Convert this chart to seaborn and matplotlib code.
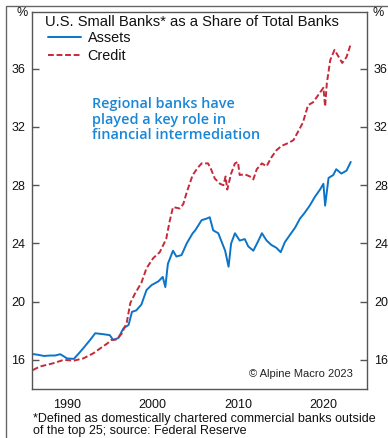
import matplotlib
matplotlib.use("Agg")
import matplotlib.pyplot as plt
from matplotlib.lines import Line2D
from matplotlib.patches import Rectangle
import pandas as pd
import seaborn as sns

# Small banks' share of total commercial bank assets (%)
asset_years = [1986.0, 1986.6, 1987.3, 1988.0, 1988.6, 1989.2, 1989.6, 1990.0, 1990.8,
               1991.4, 1991.9, 1992.7, 1993.3, 1994.3, 1995.0, 1995.4, 1996.0, 1996.6,
               1997.2, 1997.6, 1998.1, 1998.7, 1999.3, 1999.9, 2000.7, 2001.2, 2001.5,
               2001.8, 2002.4, 2002.8, 2003.4, 2004.0, 2004.7, 2005.0, 2005.75, 2006.3,
               2006.7, 2007.1, 2007.7, 2008.1, 2008.5, 2008.9, 2009.2, 2009.65, 2010.2,
               2010.8, 2011.2, 2011.8, 2012.4, 2012.8, 2013.35, 2013.9, 2014.5, 2015.0,
               2015.5, 2016.1, 2016.7, 2017.25, 2017.8, 2018.4, 2019.0, 2019.6, 2020.0,
               2020.2, 2020.6, 2021.15, 2021.5, 2022.1, 2022.7, 2023.2]
assets = [16.4, 16.35, 16.27, 16.3, 16.3, 16.39, 16.25, 16.1, 16.07,
          16.46, 16.8, 17.37, 17.83, 17.76, 17.7, 17.37, 17.5, 18.17,
          18.4, 19.3, 19.4, 19.8, 20.8, 21.14, 21.4, 21.7, 21.0,
          22.6, 23.5, 23.1, 23.2, 24.0, 24.7, 24.9, 25.6, 25.7,
          25.8, 24.9, 24.7, 24.1, 23.5, 22.4, 24.0, 24.7, 24.2,
          24.3, 23.8, 23.5, 24.2, 24.7, 24.2, 23.9, 23.7, 23.4,
          24.1, 24.6, 25.1, 25.7, 26.1, 26.6, 27.2, 27.7, 28.1,
          26.6, 28.5, 28.7, 29.1, 28.8, 29.0, 29.6]

# Small banks' share of total commercial bank credit (%)
credit_years = [1986.0, 1986.8, 1988.4, 1989.6, 1990.8, 1991.9, 1993.1, 1993.9, 1994.65,
                1995.2, 1995.8, 1996.4, 1997.0, 1997.4, 1997.9, 1998.7, 1999.3, 2000.1,
                2000.85, 2001.6, 2002.0, 2002.4, 2003.2, 2003.6, 2004.0, 2004.7, 2005.3,
                2005.75, 2006.5, 2006.85, 2007.3, 2007.9, 2008.3, 2008.55, 2008.75, 2009.2,
                2009.65, 2010.0, 2010.2, 2010.8, 2011.4, 2011.8, 2012.2, 2012.8, 2013.35,
                2013.9, 2014.5, 2015.1, 2015.9, 2016.5, 2017.05, 2017.6, 2018.2, 2018.8,
                2019.4, 2020.0, 2020.2, 2020.4, 2020.8, 2021.3, 2021.7, 2022.2, 2022.7,
                2023.2]
credit = [15.3, 15.54, 15.77, 16.0, 15.95, 16.1, 16.46, 16.8, 17.1,
          17.37, 17.4, 17.8, 18.6, 19.9, 20.5, 21.3, 22.3, 23.0,
          23.4, 24.3, 25.5, 26.5, 26.4, 26.7, 27.5, 28.7, 29.2,
          29.5, 29.5, 29.1, 28.45, 28.1, 28.0, 28.6, 27.7, 28.8,
          29.5, 29.6, 28.7, 28.75, 28.6, 28.4, 29.1, 29.5, 29.3,
          29.9, 30.4, 30.7, 30.9, 31.1, 31.7, 32.3, 33.5, 33.7,
          34.2, 34.7, 33.4, 35.0, 36.6, 37.3, 36.9, 36.4, 36.8,
          37.7]

x_ticks = [1990, 2000, 2010, 2020]
y_ticks = [16, 20, 24, 28, 32, 36]

annotation_lines = ["Regional banks have", "played a key role in",
                    "financial intermediation"]

BLUE = "#0b74c9"
RED = "#c62a3a"
SPINE = "#555555"
DASH = (0, (3.0, 1.4))

sns.set_style("white")
plt.rcParams["font.family"] = ["Liberation Sans", "DejaVu Sans"]

W, H = 388, 438
fig = plt.figure(figsize=(W / 100, H / 100), dpi=100)
ax = fig.add_axes([32 / W, 1 - 389 / H, (367 - 32) / W, (389 - 12) / H])

df_a = pd.DataFrame({"year": asset_years, "share": assets})
df_c = pd.DataFrame({"year": credit_years, "share": credit})
sns.lineplot(data=df_a, x="year", y="share", ax=ax, color=BLUE, lw=1.4,
             estimator=None, sort=False)
sns.lineplot(data=df_c, x="year", y="share", ax=ax, color=RED, lw=1.4,
             estimator=None, sort=False, linestyle=DASH)

ax.set_xlim(1985.9, 2025.1)
ax.set_ylim(14.0, 39.9)
ax.set_xticks(x_ticks)
ax.set_yticks(y_ticks)
ax.set_xlabel("")
ax.set_ylabel("")
for s in ax.spines.values():
    s.set_color(SPINE)
    s.set_linewidth(1.0)
ax.tick_params(axis="both", direction="in", length=5, width=1, color=SPINE,
               labelsize=9, labelcolor="#111111")
ax.tick_params(axis="x", pad=7)
ax.tick_params(axis="y", left=True, right=True, labelleft=True, labelright=True, pad=5)

fig.text(22 / W, 1 - 13 / H, "%", ha="center", va="center", fontsize=9, color="#111111")
fig.text(378 / W, 1 - 13 / H, "%", ha="center", va="center", fontsize=9, color="#111111")

fig.text(45 / W, 1 - 22 / H, "U.S. Small Banks* as a Share of Total Banks",
         ha="left", va="center", fontsize=10.6, color="#111111")

handles = [Line2D([], [], color=BLUE, lw=1.4),
           Line2D([], [], color=RED, lw=1.4, linestyle=DASH)]
fig.legend(handles, ["Assets", "Credit"], loc="upper left",
           bbox_to_anchor=(48 / W, 1 - 31.5 / H), frameon=False, fontsize=10.4,
           handlelength=2.3, handletextpad=0.45, labelspacing=0.25,
           borderpad=0, borderaxespad=0, labelcolor="#111111")

for i, line in enumerate(annotation_lines):
    fig.text(92 / W, 1 - (104 + 15.7 * i) / H, line, ha="left", va="center",
             fontsize=10.4, fontfamily="Open Sans", fontweight="semibold",
             color="#1a86d6")

fig.text(353 / W, 1 - 374 / H, "\u00a9 Alpine Macro 2023", ha="right", va="center",
         fontsize=8.0, color="#222222")

fig.text(33 / W, 1 - 419 / H,
         "*Defined as domestically chartered commercial banks outside",
         ha="left", va="center", fontsize=9.0, color="#111111")
fig.text(33 / W, 1 - 431 / H, "of the top 25; source: Federal Reserve",
         ha="left", va="center", fontsize=9.0, color="#111111")

# outer frame around the exhibit
fig.add_artist(Rectangle((6 / W, -0.05), 1.2, 1 - 6 / H + 0.05, transform=fig.transFigure,
                         fill=False, edgecolor="#666666", lw=1.0))

fig.savefig("out.png", dpi=100, facecolor="white")
